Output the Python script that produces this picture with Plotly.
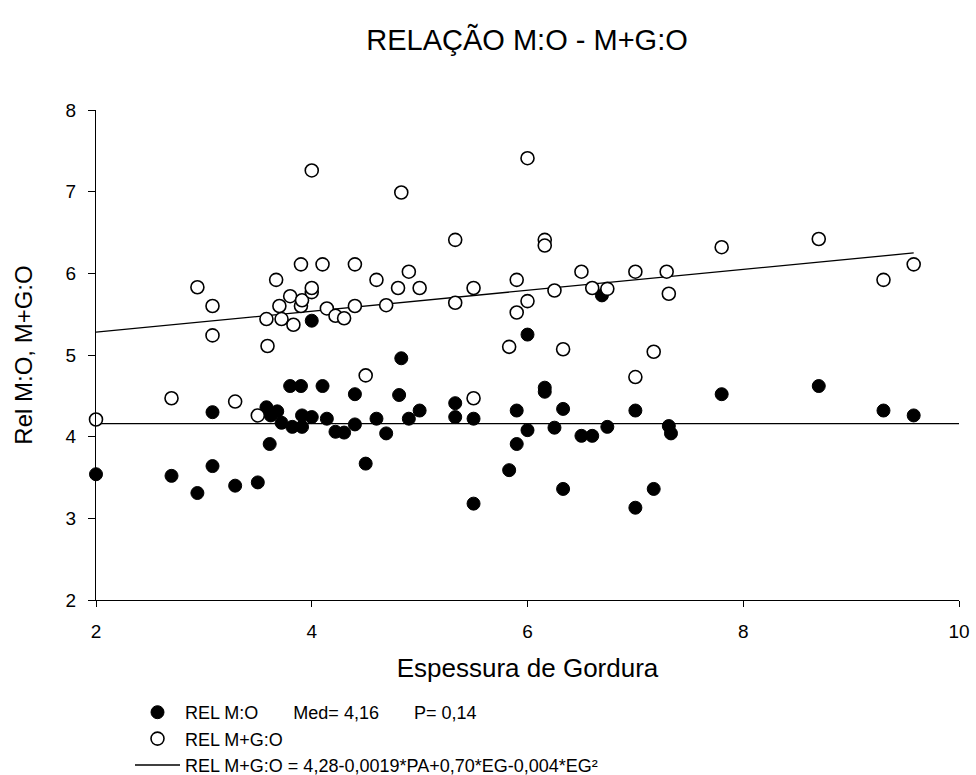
import plotly.graph_objects as go

# ---- data ----
rel_mo_x = [2.00, 2.70, 2.94, 3.08, 3.08, 3.29, 3.50, 3.58, 3.61, 3.62, 3.68, 3.72, 3.80, 3.82, 3.90,
            3.91, 3.91, 4.00, 4.00, 4.10, 4.14, 4.22, 4.30, 4.40, 4.40, 4.50, 4.60, 4.69, 4.81, 4.83,
            4.90, 5.00, 5.33, 5.33, 5.50, 5.50, 5.83, 5.90, 5.90, 6.00, 6.00, 6.16, 6.16, 6.25, 6.33,
            6.33, 6.50, 6.60, 6.69, 6.74, 7.00, 7.00, 7.17, 7.31, 7.33, 7.80, 8.70, 9.30, 9.58]
rel_mo_y = [3.54, 3.52, 3.31, 4.30, 3.64, 3.40, 3.44, 4.36, 3.91, 4.26, 4.31, 4.17, 4.62, 4.12, 4.62,
            4.12, 4.26, 4.24, 5.42, 4.62, 4.22, 4.06, 4.05, 4.52, 4.15, 3.67, 4.22, 4.04, 4.51, 4.96,
            4.22, 4.32, 4.41, 4.24, 4.22, 3.18, 3.59, 4.32, 3.91, 5.25, 4.08, 4.60, 4.55, 4.11, 4.34,
            3.36, 4.01, 4.01, 5.73, 4.12, 4.32, 3.13, 3.36, 4.13, 4.04, 4.52, 4.62, 4.32, 4.26]

rel_mgo_x = [2.00, 2.70, 2.94, 3.08, 3.08, 3.29, 3.50, 3.59, 3.58, 3.67, 3.70, 3.72, 3.80, 3.83, 3.90,
             3.90, 3.91, 4.00, 4.00, 4.00, 4.10, 4.14, 4.22, 4.30, 4.40, 4.40, 4.50, 4.60, 4.69, 4.80,
             4.83, 4.90, 5.00, 5.33, 5.33, 5.50, 5.50, 5.83, 5.90, 5.90, 6.00, 6.00, 6.16, 6.16, 6.25,
             6.33, 6.50, 6.60, 6.74, 7.00, 7.00, 7.17, 7.29, 7.31, 7.80, 8.70, 9.30, 9.58]
rel_mgo_y = [4.21, 4.47, 5.83, 5.60, 5.24, 4.43, 4.26, 5.11, 5.44, 5.92, 5.60, 5.44, 5.72, 5.37, 6.11,
             5.60, 5.67, 5.77, 5.82, 7.26, 6.11, 5.57, 5.48, 5.45, 6.11, 5.60, 4.75, 5.92, 5.61, 5.82,
             6.99, 6.02, 5.82, 6.41, 5.64, 5.82, 4.47, 5.10, 5.92, 5.52, 5.66, 7.41, 6.41, 6.34, 5.79,
             5.07, 6.02, 5.82, 5.81, 4.73, 6.02, 5.04, 6.02, 5.75, 6.32, 6.42, 5.92, 6.11]

mean_x = [2.0, 10.1]
mean_y = [4.16, 4.16]

fit_x = [2.0, 9.58]
fit_y = [5.28, 6.25]

x_ticks = [2, 4, 6, 8, 10]
y_ticks = [2, 3, 4, 5, 6, 7, 8]

FONT = "Liberation Sans, Arial, sans-serif"
SP = "&nbsp;" * 7

fig = go.Figure()

# lines first so markers sit on top
fig.add_trace(go.Scatter(
    x=mean_x, y=mean_y, mode="lines", showlegend=False,
    line=dict(color="black", width=1.3),
))
fig.add_trace(go.Scatter(
    x=fit_x, y=fit_y, mode="lines", legendrank=3,
    name="REL M+G:O = 4,28-0,0019*PA+0,70*EG-0,004*EG²",
    line=dict(color="black", width=1.3),
))
fig.add_trace(go.Scatter(
    x=rel_mo_x, y=rel_mo_y, mode="markers", legendrank=1,
    name="REL M:O" + SP + "Med= 4,16" + SP + "P= 0,14",
    marker=dict(symbol="circle", size=13, color="black", line=dict(color="black", width=1)),
    cliponaxis=False,
))
fig.add_trace(go.Scatter(
    x=rel_mgo_x, y=rel_mgo_y, mode="markers", legendrank=2,
    name="REL M+G:O",
    marker=dict(symbol="circle", size=13, color="white", line=dict(color="black", width=1.6)),
    cliponaxis=False,
))

fig.update_layout(
    width=976, height=775,
    paper_bgcolor="white", plot_bgcolor="white",
    margin=dict(l=96, r=17, t=110, b=175),
    font=dict(family=FONT, color="black"),
    title=dict(text="RELAÇÃO M:O - M+G:O", x=0.54, xanchor="center",
               y=1 - 40 / 775, yanchor="middle", yref="container",
               font=dict(size=29, family=FONT, color="black")),
    xaxis=dict(range=[2, 10], tickvals=x_ticks, showgrid=False, zeroline=False,
               showline=True, linecolor="black", linewidth=1.3,
               ticks="outside", ticklen=6, tickwidth=1.3, tickcolor="black",
               tickfont=dict(size=19), ticklabelstandoff=8, automargin=False,
               title=dict(text="Espessura de Gordura", font=dict(size=26), standoff=17)),
    yaxis=dict(range=[2, 8], tickvals=y_ticks, showgrid=False, zeroline=False,
               showline=True, linecolor="black", linewidth=1.3,
               ticks="outside", ticklen=7, tickwidth=1.3, tickcolor="black",
               tickfont=dict(size=19), ticklabelstandoff=8, automargin=False,
               title=dict(text="Rel M:O, M+G:O", font=dict(size=24), standoff=26)),
    legend=dict(orientation="v", x=(130 - 96) / 863, xref="paper", xanchor="left",
                y=1 - 694 / 775, yref="container", yanchor="top",
                font=dict(size=18), traceorder="normal", itemwidth=45,
                bgcolor="rgba(0,0,0,0)", borderwidth=0, tracegroupgap=0),
)

fig.write_html("out.html")
